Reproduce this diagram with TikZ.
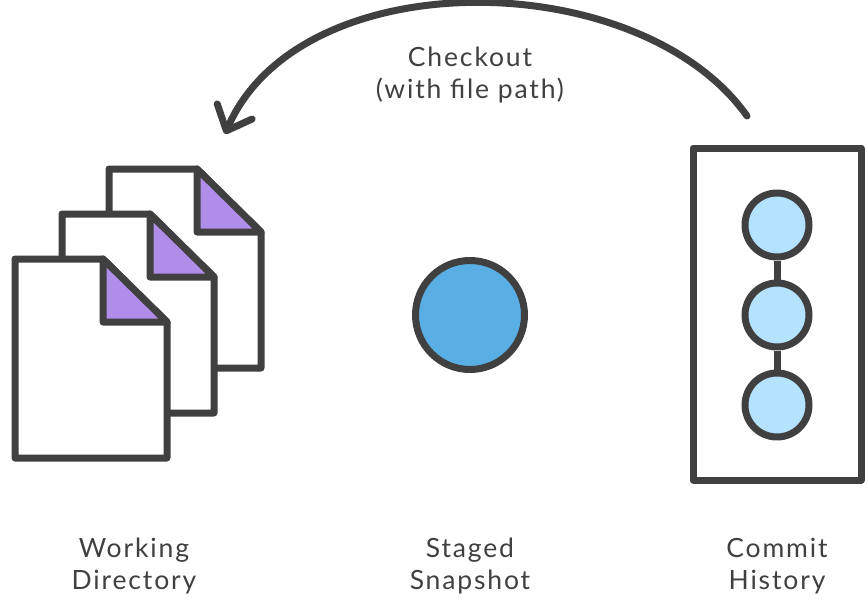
\documentclass[tikz,border=0pt]{standalone}
\usepackage{fontspec}
\setmainfont[LetterSpace=7]{Lato}
\usetikzlibrary{arrows.meta, positioning}

\definecolor{inkgrey}{HTML}{404040}
\definecolor{foldpurple}{HTML}{B08DE8}
\definecolor{commitblue}{HTML}{B5E2FF}
\definecolor{stagedblue}{HTML}{59AEE3}

\begin{document}
\begin{tikzpicture}[
    x=1pt, y=-1pt,
    outline/.style={draw=inkgrey, line width=7pt, line join=round},
    commit/.style={circle, outline, fill=commitblue, minimum size=64pt, inner sep=0pt},
    caption/.style={text=inkgrey, font=\fontsize{26.5}{32}\selectfont, align=center, inner sep=0pt},
    line/.style={outline, line cap=round, -{Straight Barb[length=21pt, width=38pt, round]}}
]
    \useasboundingbox (0,0) rectangle (868,602);

    % Working directory files, back to front
    \foreach \dx/\dy in {94/-90, 47/-45, 0/0} {
        \begin{scope}[shift={(\dx,\dy)}]
            \draw[outline, fill=white] (15,259) -- (103,259) -- (167,322) -- (167,458) -- (15,458) -- cycle;
            \draw[outline, fill=foldpurple] (103,259) -- (103,322) -- (167,322) -- cycle;
        \end{scope}
    }

    % Staged snapshot
    \node[circle, outline, fill=stagedblue, minimum size=109pt, inner sep=0pt] (staged) at (470,315) {};

    % Commit history
    \node[rectangle, outline, minimum width=168pt, minimum height=332pt] (history) at (777,314) {};
    \node[commit] (commit1) at (777,225) {};
    \node[commit, below=19pt of commit1] (commit2) {};
    \node[commit, below=19pt of commit2] (commit3) {};
    \draw[outline] (commit1) -- (commit2);
    \draw[outline] (commit2) -- (commit3);

    % Labels
    \node[caption] (checkout) at (470,75) {Checkout\\(with file path)};
    \node[caption] (working) at (134,566) {Working\\Directory};
    \node[caption] (snapshot) at (470,566) {Staged\\Snapshot};
    \node[caption] (commits) at (777,566) {Commit\\History};

    % Arrow
    \coordinate (arcstart) at (747,116);
    \coordinate (arcend) at (225,134);
    \draw[line] (arcstart) .. controls (640,-35) and (300,-40) .. (arcend);

\end{tikzpicture}
\end{document}
